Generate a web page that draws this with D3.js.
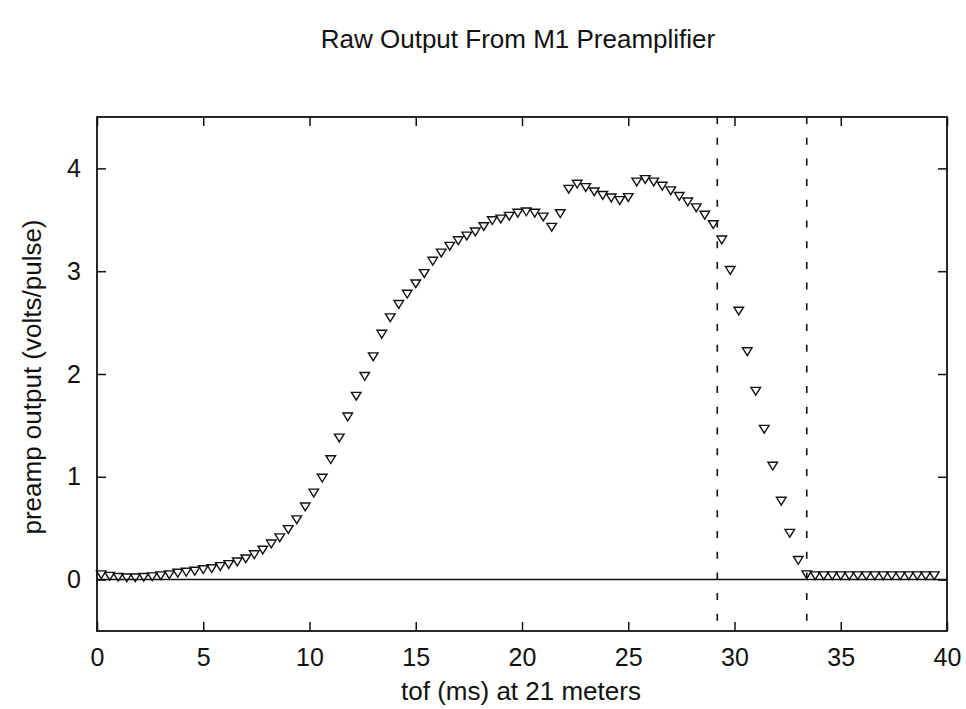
<!DOCTYPE html>
<html>
<head>
<meta charset="utf-8">
<script src="https://cdn.jsdelivr.net/npm/d3@7"></script>
<style>
  html, body { margin: 0; padding: 0; background: #fff; }
  svg { display: block; font-family: "Liberation Sans", Arial, sans-serif; }
</style>
</head>
<body>
<svg id="chart" width="966" height="709"></svg>
<script>
// ---- data ----
const title = "Raw Output From M1 Preamplifier";
const xLabel = "tof (ms) at 21 meters";
const yLabel = "preamp output (volts/pulse)";

const tof = [
  0.2, 0.6, 1.0, 1.4, 1.8, 2.2, 2.6, 3.0, 3.4, 3.8,
  4.2, 4.6, 5.0, 5.4, 5.8, 6.2, 6.6, 7.0, 7.4, 7.8,
  8.2, 8.6, 9.0, 9.4, 9.8, 10.2, 10.6, 11.0, 11.4, 11.8,
  12.2, 12.6, 13.0, 13.4, 13.8, 14.2, 14.6, 15.0, 15.4, 15.8,
  16.2, 16.6, 17.0, 17.4, 17.8, 18.2, 18.6, 19.0, 19.4, 19.8,
  20.2, 20.6, 21.0, 21.4, 21.8, 22.2, 22.6, 23.0, 23.4, 23.8,
  24.2, 24.6, 25.0, 25.4, 25.8, 26.2, 26.6, 27.0, 27.4, 27.8,
  28.2, 28.6, 29.0, 29.4, 29.8, 30.2, 30.6, 31.0, 31.4, 31.8,
  32.2, 32.6, 33.0, 33.4, 33.8, 34.2, 34.6, 35.0, 35.4, 35.8,
  36.2, 36.6, 37.0, 37.4, 37.8, 38.2, 38.6, 39.0, 39.4
];
const volts = [
  0.05, 0.035, 0.025, 0.02, 0.02, 0.025, 0.03, 0.04, 0.05, 0.065,
  0.075, 0.085, 0.10, 0.11, 0.13, 0.15, 0.175, 0.205, 0.245, 0.29,
  0.35, 0.41, 0.49, 0.585, 0.71, 0.845, 0.99, 1.17, 1.38, 1.585,
  1.786, 1.98, 2.17, 2.39, 2.55, 2.68, 2.78, 2.88, 2.98, 3.10,
  3.18, 3.245, 3.30, 3.345, 3.385, 3.437, 3.495, 3.51, 3.537, 3.567,
  3.58, 3.567, 3.53, 3.43, 3.563, 3.80, 3.85, 3.817, 3.775, 3.74,
  3.716, 3.69, 3.72, 3.87, 3.895, 3.87, 3.83, 3.785, 3.73, 3.677,
  3.62, 3.548, 3.456, 3.307, 3.01, 2.615, 2.22, 1.835, 1.465, 1.107,
  0.766, 0.454, 0.19, 0.05, 0.04, 0.04, 0.04, 0.04, 0.04, 0.04,
  0.04, 0.04, 0.04, 0.04, 0.04, 0.04, 0.04, 0.04, 0.04
];
const cutLines = [29.19, 33.40];
const xTicks = [0, 5, 10, 15, 20, 25, 30, 35, 40];
const yTicks = [0, 1, 2, 3, 4];
const xDomain = [0, 40];
const yDomain = [-0.5, 4.5];

// ---- layout ----
const svg = d3.select("#chart");
const L = 97, R = 947, T = 117, B = 631;
const x = d3.scaleLinear().domain(xDomain).range([L, R]);
const y = d3.scaleLinear().domain(yDomain).range([B, T]);
const fs = 25;
const tick = 9;

// axes (inward ticks, all four sides)
const gB = svg.append("g").attr("transform", `translate(0,${B})`)
  .call(d3.axisBottom(x).tickValues(xTicks).tickFormat(d3.format("d"))
    .tickSizeInner(-tick).tickSizeOuter(0).tickPadding(17));
const gT = svg.append("g").attr("transform", `translate(0,${T})`)
  .call(d3.axisTop(x).tickValues(xTicks).tickFormat("")
    .tickSizeInner(-tick).tickSizeOuter(0));
const gL = svg.append("g").attr("transform", `translate(${L},0)`)
  .call(d3.axisLeft(y).tickValues(yTicks).tickFormat(d3.format("d"))
    .tickSizeInner(-tick).tickSizeOuter(0).tickPadding(16));
const gR = svg.append("g").attr("transform", `translate(${R},0)`)
  .call(d3.axisRight(y).tickValues(yTicks).tickFormat("")
    .tickSizeInner(-tick).tickSizeOuter(0));

[gB, gT, gL, gR].forEach(g => {
  g.select(".domain").remove();
  g.selectAll(".tick line").attr("stroke", "#111").attr("stroke-width", 1.5);
  g.selectAll(".tick text").attr("fill", "#111")
    .style("font-size", fs + "px")
    .style("font-family", "'Liberation Sans', Arial, sans-serif");
});

// zero line
svg.append("line")
  .attr("x1", x(xDomain[0])).attr("x2", x(xDomain[1]))
  .attr("y1", y(0)).attr("y2", y(0))
  .attr("stroke", "#111").attr("stroke-width", 1.5);

// dashed cut lines
svg.selectAll("line.cut").data(cutLines).enter().append("line")
  .attr("class", "cut")
  .attr("x1", d => x(d)).attr("x2", d => x(d))
  .attr("y1", y(yDomain[1])).attr("y2", y(yDomain[0]))
  .attr("stroke", "#111").attr("stroke-width", 1.6)
  .attr("stroke-dasharray", "7,13.7");

// frame
svg.append("rect")
  .attr("x", L).attr("y", T).attr("width", R - L).attr("height", B - T)
  .attr("fill", "none").attr("stroke", "#111").attr("stroke-width", 1.8);

// markers: open down-pointing triangles
const tri = "M-4.8,-3.6L4.8,-3.6L0,4.2Z";
const pts = tof.map((t, i) => ({ t, v: volts[i] }));
svg.append("g").selectAll("path").data(pts).enter().append("path")
  .attr("d", tri)
  .attr("transform", d => `translate(${x(d.t)},${y(d.v)})`)
  .attr("fill", "none").attr("stroke", "#111").attr("stroke-width", 1.4);

// title and labels
svg.append("text")
  .attr("x", 518).attr("y", 48)
  .attr("text-anchor", "middle")
  .style("font-size", "26px").attr("fill", "#111")
  .text(title);

svg.append("text")
  .attr("x", 521).attr("y", 700)
  .attr("text-anchor", "middle")
  .style("font-size", "26px").attr("fill", "#111")
  .text(xLabel);

svg.append("text")
  .attr("transform", "translate(41,377) rotate(-90)")
  .attr("text-anchor", "middle")
  .style("font-size", "26px").attr("fill", "#111")
  .text(yLabel);
</script>
</body>
</html>
